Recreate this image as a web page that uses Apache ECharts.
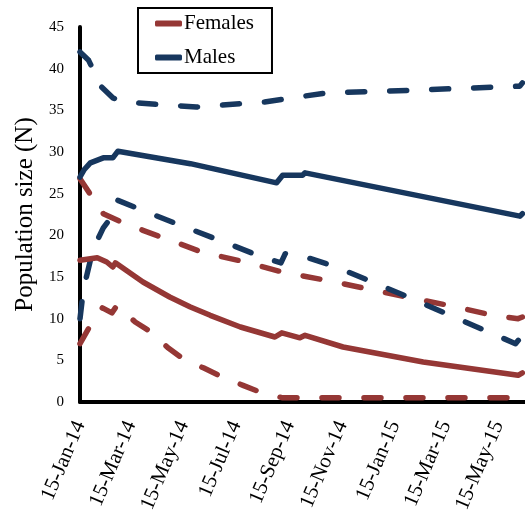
<!DOCTYPE html>
<html><head><meta charset="utf-8">
<script src="https://cdn.jsdelivr.net/npm/echarts@6/dist/echarts.min.js"></script>
<style>html,body{margin:0;padding:0;background:#fff}#c{width:525px;height:520px}</style>
</head><body><div id="c"></div>
<script>
const tickDates = ['2014-01-15','2014-03-15','2014-05-15','2014-07-15','2014-09-15','2014-11-15','2015-01-15','2015-03-15','2015-05-15'];
const tickLabels = ['15-Jan-14','15-Mar-14','15-May-14','15-Jul-14','15-Sep-14','15-Nov-14','15-Jan-15','15-Mar-15','15-May-15'];

const maleMeanDates = ['2014-01-15','2014-01-20','2014-01-27','2014-02-11','2014-02-22','2014-02-28','2014-05-23','2014-08-31','2014-09-07','2014-09-30','2014-10-03','2015-06-09','2015-06-12'];
const maleMeanValues = [27.0,27.9,28.7,29.3,29.3,30.1,28.6,26.3,27.2,27.2,27.5,22.3,22.6];

const maleUpperDates = ['2014-01-15','2014-01-25','2014-02-09','2014-02-22','2014-03-06','2014-05-30','2014-08-17','2014-10-28','2015-02-02','2015-05-14','2015-06-09','2015-06-12'];
const maleUpperValues = [42.0,41.0,37.8,36.5,36.0,35.4,36.0,37.1,37.4,37.8,37.9,38.3];

const maleLowerDates = ['2014-01-15','2014-01-19','2014-01-30','2014-02-11','2014-02-22','2014-02-28','2014-03-31','2014-05-19','2014-06-26','2014-08-14','2014-09-05','2014-09-10','2014-09-30','2014-11-03','2014-12-20','2015-02-04','2015-03-20','2015-05-06','2015-06-04','2015-06-12'];
const maleLowerValues = [10.0,13.5,18.3,20.9,22.4,24.2,22.9,20.9,19.4,17.4,16.7,17.8,17.5,16.4,14.4,12.4,10.4,8.3,7.0,8.0];

const femaleMeanDates = ['2014-01-15','2014-02-04','2014-02-15','2014-02-22','2014-02-25','2014-03-29','2014-04-29','2014-05-23','2014-06-15','2014-07-20','2014-08-29','2014-09-06','2014-09-27','2014-10-03','2014-11-16','2015-02-17','2015-06-07','2015-06-12'];
const femaleMeanValues = [17.0,17.3,16.8,16.2,16.7,14.4,12.6,11.4,10.4,9.0,7.8,8.3,7.7,8.0,6.6,4.8,3.2,3.5];

const femaleUpperDates = ['2014-01-15','2014-01-29','2014-02-11','2014-03-06','2014-03-29','2014-06-08','2014-07-26','2014-09-10','2014-10-28','2014-12-13','2015-02-02','2015-03-23','2015-05-09','2015-06-07','2015-06-12'];
const femaleUpperValues = [26.8,24.6,22.6,21.5,20.6,17.9,16.8,15.5,14.6,13.6,12.5,11.5,10.4,10.0,10.2];

const femaleLowerDates = ['2014-01-15','2014-01-27','2014-02-10','2014-02-21','2014-02-27','2014-03-20','2014-04-09','2014-04-27','2014-05-17','2014-06-07','2014-06-29','2014-07-23','2014-08-14','2014-09-07','2015-06-12'];
const femaleLowerValues = [7.0,9.2,11.3,10.7,11.6,9.6,8.3,6.5,5.0,4.1,3.0,2.0,1.1,0.5,0.5];

const RED = '#953735', BLUE = '#17375E';
const FONT = '"Liberation Serif","Times New Roman",serif';

function ts(s){ const p = s.split('-').map(Number); return Date.UTC(p[0], p[1]-1, p[2]); }
function zip(d, v){ return d.map((x,i)=>[ts(x), v[i]]); }
function mk(name, d, v, color, dashed){
  return {
    name, type:'line', data: zip(d,v), symbol:'none', smooth:false, silent:true,
    lineStyle:{ color, width:5.5, type: dashed ? [17,25] : 'solid', cap:'round', join:'round' },
    itemStyle:{ color }, z: dashed ? 2 : 3
  };
}
const tickTs = tickDates.map(ts);

const chart = echarts.init(document.getElementById('c'), null, {renderer:'canvas'});
chart.setOption({
  animation:false,
  backgroundColor:'#fff',
  grid:{ left:80, right:0, top:27, bottom:118, containLabel:false },
  legend:{
    data:['Females','Males'], orient:'vertical', left:138, top:8,
    padding:[5,18,5,17], itemGap:13, itemWidth:27, itemHeight:6, icon:'roundRect',
    borderColor:'#000', borderWidth:2, borderRadius:0,
    textStyle:{ fontFamily:FONT, fontSize:21, color:'#000', padding:[0,0,0,-3] }
  },
  xAxis:{
    type:'value', min: ts('2014-01-15'), max: ts('2015-06-15'),
    axisLine:{ show:true, onZero:false, lineStyle:{ color:'#000', width:4 } },
    axisTick:{ show:false },
    splitLine:{ show:false },
    axisLabel:{
      customValues: tickTs, rotate:67, margin:20, fontFamily:FONT, fontSize:21, color:'#000',
      showMinLabel:true, showMaxLabel:true,
      formatter: function(v){ let best=0; for(let i=0;i<tickTs.length;i++){ if(Math.abs(tickTs[i]-v)<Math.abs(tickTs[best]-v)) best=i; } return tickLabels[best]; }
    }
  },
  yAxis:{
    type:'value', min:0, max:45, interval:5,
    name:'Population size (N)', nameLocation:'middle', nameGap:40, nameRotate:90,
    nameTextStyle:{ fontFamily:FONT, fontSize:25, color:'#000' },
    axisLine:{ show:true, lineStyle:{ color:'#000', width:4 } },
    axisTick:{ show:false }, splitLine:{ show:false },
    axisLabel:{ fontFamily:FONT, fontSize:15, color:'#000', margin:16 }
  },
  series:[
    mk('Females', femaleMeanDates, femaleMeanValues, RED, false),
    mk('Males', maleMeanDates, maleMeanValues, BLUE, false),
    mk('Females upper', femaleUpperDates, femaleUpperValues, RED, true),
    mk('Females lower', femaleLowerDates, femaleLowerValues, RED, true),
    mk('Males upper', maleUpperDates, maleUpperValues, BLUE, true),
    mk('Males lower', maleLowerDates, maleLowerValues, BLUE, true)
  ]
});
</script></body></html>
